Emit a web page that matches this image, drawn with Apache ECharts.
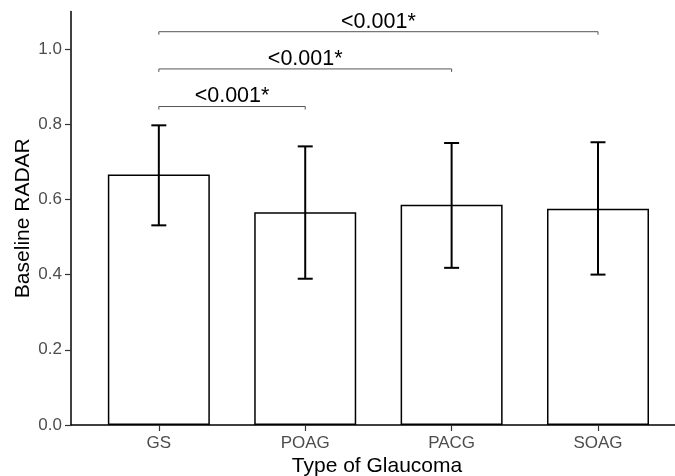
<!DOCTYPE html>
<html>
<head>
<meta charset="utf-8">
<script src="https://cdn.jsdelivr.net/npm/echarts@6/dist/echarts.min.js"></script>
<style>
  html, body { margin: 0; padding: 0; background: #fff; }
  #main { width: 675px; height: 476px; }
</style>
</head>
<body>
<div id="main"></div>
<script>
// 数据
var categories = ['GS', 'POAG', 'PACG', 'SOAG'];
var means = [0.666, 0.566, 0.586, 0.575];
var errLow = [0.531, 0.389, 0.418, 0.400];
var errHigh = [0.797, 0.741, 0.750, 0.752];
var yTicks = [0, 0.2, 0.4, 0.6, 0.8, 1.0];
// 显著性标注: 起点, 终点, 高度, 文字
var brackets = [
    [0, 1, 0.847, '<0.001*'],
    [0, 2, 0.947, '<0.001*'],
    [0, 3, 1.046, '<0.001*']
];

var font = 'Liberation Sans, Arial, sans-serif';
var myChart = echarts.init(document.getElementById('main'));

var option = {
    animation: false,
    grid: { left: 71, right: 0, top: 11.4, bottom: 51, outerBoundsMode: 'none', containLabel: false },
    xAxis: {
        type: 'value',
        min: -0.6,
        max: 3.526,
        name: 'Type of Glaucoma',
        nameLocation: 'middle',
        nameGap: 31,
        nameMoveOverlap: false,
        nameTextStyle: { color: '#000', fontSize: 21, fontFamily: font, padding: [0, 0, 0, 8] },
        splitLine: { show: false },
        axisLine: { show: true, onZero: false, lineStyle: { color: '#000', width: 1.5 } },
        axisTick: { show: true, length: 6, customValues: [0, 1, 2, 3], lineStyle: { color: '#333', width: 1.2 } },
        axisLabel: {
            customValues: [0, 1, 2, 3],
            margin: 10,
            color: '#4d4d4d',
            fontSize: 17,
            fontFamily: font,
            formatter: function (v) { return categories[Math.round(v)]; }
        }
    },
    yAxis: {
        type: 'value',
        min: 0,
        max: 1.1,
        name: 'Baseline RADAR',
        nameLocation: 'middle',
        nameGap: 37,
        nameMoveOverlap: false,
        nameTextStyle: { color: '#000', fontSize: 21, fontFamily: font },
        splitLine: { show: false },
        axisLine: { show: true, onZero: false, lineStyle: { color: '#000', width: 1.5 } },
        axisTick: { show: true, length: 6, customValues: yTicks, lineStyle: { color: '#333', width: 1.2 } },
        axisLabel: {
            customValues: yTicks,
            margin: 9,
            color: '#4d4d4d',
            fontSize: 17,
            fontFamily: font,
            formatter: function (v) { return v.toFixed(1); }
        }
    },
    series: [
        {
            name: '均值',
            type: 'bar',
            barWidth: 102,
            itemStyle: { color: '#fff', borderColor: '#000', borderWidth: 1.5 },
            data: means.map(function (m, i) { return [i, m]; })
        },
        {
            name: '误差',
            type: 'custom',
            renderItem: function (params, api) {
                var x = api.value(0);
                var lo = api.coord([x, api.value(1)]);
                var hi = api.coord([x, api.value(2)]);
                var hw = 7.5;
                var style = { stroke: '#000', lineWidth: 2 };
                return {
                    type: 'group',
                    children: [
                        { type: 'line', shape: { x1: lo[0], y1: lo[1], x2: hi[0], y2: hi[1] }, style: style },
                        { type: 'line', shape: { x1: lo[0] - hw, y1: lo[1], x2: lo[0] + hw, y2: lo[1] }, style: style },
                        { type: 'line', shape: { x1: hi[0] - hw, y1: hi[1], x2: hi[0] + hw, y2: hi[1] }, style: style }
                    ]
                };
            },
            data: categories.map(function (c, i) { return [i, errLow[i], errHigh[i]]; }),
            z: 5
        },
        {
            name: '显著性',
            type: 'custom',
            renderItem: function (params, api) {
                var b = brackets[params.dataIndex];
                var p1 = api.coord([b[0], b[2]]);
                var p2 = api.coord([b[1], b[2]]);
                var tip = 3;
                return {
                    type: 'group',
                    children: [
                        {
                            type: 'polyline',
                            shape: { points: [[p1[0], p1[1] + tip], [p1[0], p1[1]], [p2[0], p2[1]], [p2[0], p2[1] + tip]] },
                            style: { stroke: '#555', lineWidth: 1, fill: null }
                        },
                        {
                            type: 'text',
                            x: (p1[0] + p2[0]) / 2,
                            y: p1[1] + 1,
                            style: {
                                text: b[3],
                                fill: '#000',
                                fontSize: 21.5,
                                fontFamily: font,
                                align: 'center',
                                verticalAlign: 'bottom'
                            }
                        }
                    ]
                };
            },
            data: brackets.map(function (b) { return [b[0], b[2]]; }),
            z: 6
        }
    ]
};

myChart.setOption(option);
</script>
</body>
</html>
